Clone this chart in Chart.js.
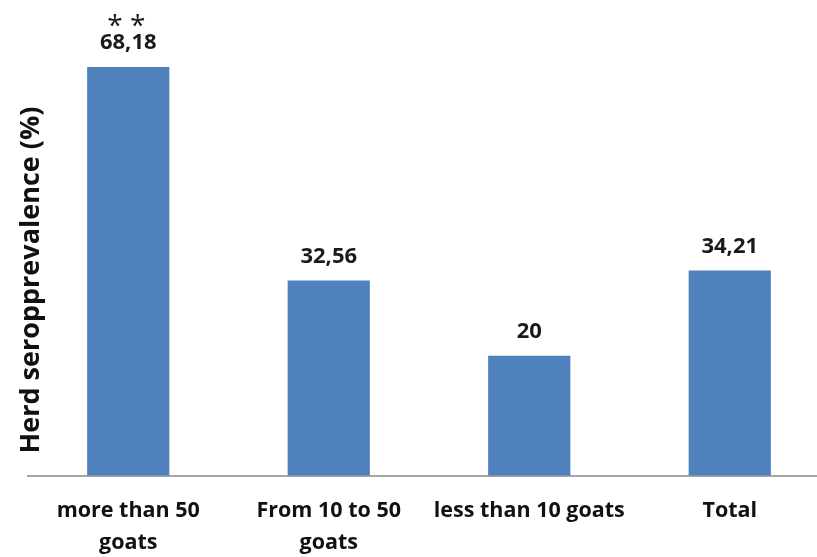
<!DOCTYPE html>
<html>
<head>
<meta charset="utf-8">
<script src="https://cdn.jsdelivr.net/npm/chart.js@4/dist/chart.umd.min.js"></script>
<style>
    body { margin: 0; overflow: hidden; background: #fff; }
    #wrap { width: 830px; height: 557px; overflow: hidden; }
</style>
</head>
<body>
<div id="wrap"><canvas id="HerdChart" width="830" height="570"></canvas></div>
<script>
// herd seroprevalence by herd size
var categories = [['more than 50', 'goats'], ['From 10 to 50', 'goats'], 'less than 10 goats', 'Total'];
var prevalence = [68.18, 32.56, 20, 34.21];
var valueLabels = ['68,18', '32,56', '20', '34,21'];
var markers = ['* *', '', '', ''];
var yTitle = 'Herd seropprevalence (%)';

var FONT = "'Open Sans', sans-serif";

// value (and significance marker) above each bar
const barValues = {
    id: 'barValues',
    afterDatasetsDraw(chart) {
        var ctx = chart.ctx;
        var meta = chart.getDatasetMeta(0);
        ctx.save();
        ctx.fillStyle = '#1a1a1a';
        ctx.textAlign = 'center';
        ctx.textBaseline = 'middle';
        meta.data.forEach(function (bar, i) {
            ctx.font = 'bold 22px ' + FONT;
            ctx.fillText(valueLabels[i], bar.x, bar.y - 24);
            if (markers[i]) {
                ctx.font = '28px ' + FONT;
                ctx.fillText(markers[i], bar.x - 2, bar.y - 40);
            }
        });
        ctx.restore();
    }
};

// rotated axis title
const axisTitle = {
    id: 'axisTitle',
    afterDraw(chart) {
        var ctx = chart.ctx;
        ctx.save();
        ctx.translate(31, 280);
        ctx.rotate(-Math.PI / 2);
        ctx.font = 'bold 27px ' + FONT;
        ctx.fillStyle = '#111';
        ctx.textAlign = 'center';
        ctx.textBaseline = 'middle';
        ctx.fillText(yTitle, 0, 0);
        ctx.restore();
    }
};

new Chart(document.getElementById('HerdChart'), {
    type: 'bar',
    data: {
        labels: categories,
        datasets: [
            {
                data: prevalence,
                backgroundColor: '#4f81bd',
                categoryPercentage: 1,
                barPercentage: 0.41
            }
        ]
    },
    options: {
        responsive: false,
        animation: false,
        layout: {
            padding: { left: 28, top: 20, right: 0, bottom: 0 }
        },
        plugins: {
            legend: { display: false },
            tooltip: { enabled: false }
        },
        scales: {
            x: {
                grid: { display: false },
                border: { display: true, color: '#a6a6a6', width: 2 },
                ticks: {
                    color: '#111',
                    padding: 12,
                    maxRotation: 0,
                    autoSkip: false,
                    font: { family: FONT, size: 21.5, weight: 'bold', lineHeight: 1.45 }
                }
            },
            y: {
                display: false,
                min: 0,
                max: 76
            }
        }
    },
    plugins: [barValues, axisTitle]
});
</script>
</body>
</html>
